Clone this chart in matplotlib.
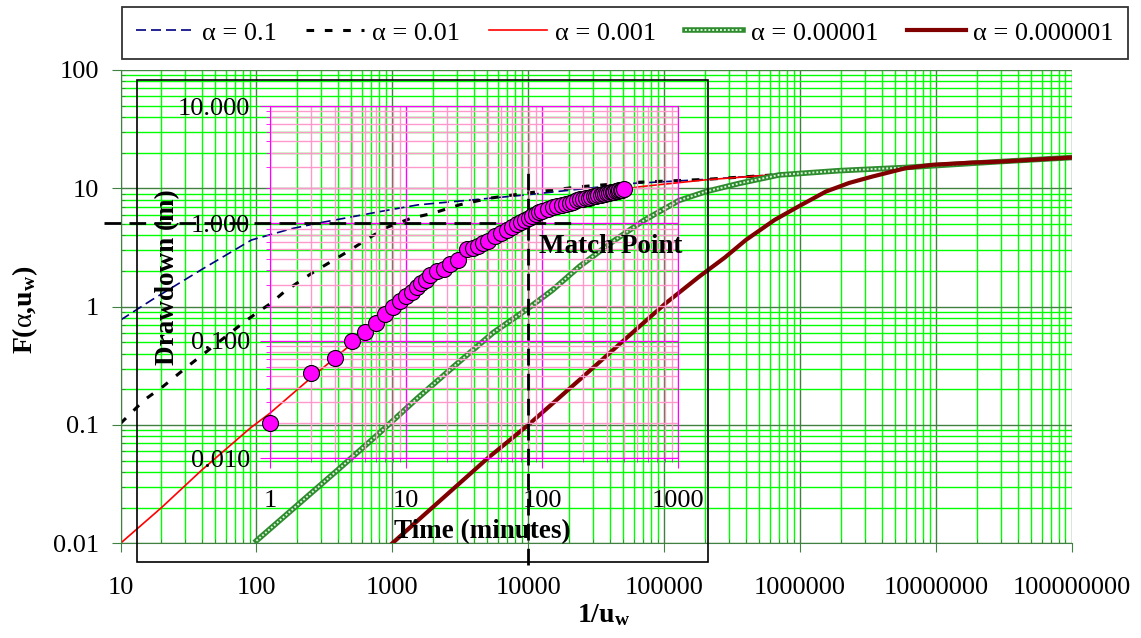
## Module imports
import numpy as np
import matplotlib
matplotlib.use('Agg')
import matplotlib.pyplot as plt
from matplotlib.lines import Line2D
from matplotlib.patches import Rectangle
from matplotlib.ticker import LogLocator, NullFormatter

plt.rcParams['font.family'] = 'Liberation Serif'
plt.rcParams['mathtext.fontset'] = 'custom'
plt.rcParams['mathtext.rm'] = 'Liberation Serif'
plt.rcParams['mathtext.bf'] = 'Liberation Serif:bold'
plt.rcParams['mathtext.it'] = 'Liberation Serif:italic'

## Type curves F(alpha, u_w)
x_a1 = [10, 17, 39, 92, 125, 180, 282, 807, 1535, 9660, 58600, 203000, 630000]
F_a1 = [0.77, 1.14, 2.04, 3.66, 4.04, 4.55, 5.07, 6.35, 7.24, 8.8, 11.0, 11.9, 13.0]

x_a2 = [10, 15, 20.5, 32, 43, 82, 100, 128, 161, 207, 267, 354, 470, 697, 923,
        1370, 1990, 3120, 5190, 9660, 23800, 58600, 203000, 650000]
F_a2 = [0.103, 0.163, 0.211, 0.32, 0.417, 0.747, 0.88, 1.07, 1.34, 1.63, 1.98, 2.4,
        2.92, 3.9, 4.7, 5.58, 6.16, 7.25, 8.25, 9.1, 10.3, 11.2, 11.9, 13.0]

x_a3 = [10, 20, 40, 90, 125, 247, 460, 741, 1210, 2340, 3575, 6320, 9660, 13560,
        19000, 29800, 50900, 65600, 203000, 630000]
F_a3 = [0.01, 0.02, 0.042, 0.094, 0.125, 0.245, 0.445, 0.70, 1.18, 2.05, 3.0, 4.25,
        5.5, 6.6, 7.45, 8.6, 9.8, 10.3, 11.8, 13.0]

x_a5 = [100, 200, 400, 800, 1500, 3000, 5500, 9660, 15100, 23800, 41800, 70000,
        129000, 203000, 357000, 700000, 1940000, 6000000, 29000000, 100000000]
F_a5 = [0.0105, 0.021, 0.042, 0.085, 0.165, 0.33, 0.6, 0.94, 1.38, 2.18, 3.54, 5.3,
        7.9, 9.38, 11.0, 12.97, 14.1, 15.0, 16.8, 18.2]

x_a6 = [1000, 5000, 10000, 23800, 50000, 103000, 181000, 280000, 400000, 650000,
        970000, 1550000, 2300000, 3400000, 6000000, 9400000, 18500000, 29000000,
        100000000]
F_a6 = [0.01, 0.052, 0.1, 0.24, 0.513, 1.07, 1.79, 2.6, 3.66, 5.4, 7.0, 9.38, 11.1,
        12.56, 14.8, 15.8, 16.5, 16.8, 18.2]

labels = ['α = 0.1', 'α = 0.01', 'α = 0.001', 'α = 0.00001', 'α = 0.000001']

## Field data: drawdown vs time
t_min = [1, 2, 3, 4, 5, 6, 7, 8, 9, 10, 11, 12, 13, 14, 15, 17, 19, 21, 24, 28,
         31, 34, 37, 40, 45, 50, 55, 60, 65, 70, 75, 80, 85, 90, 95, 100, 110, 120,
         130, 140, 150, 160, 170, 180, 190, 200, 210, 220, 230, 240, 250, 260, 270,
         280, 290, 300, 310, 320, 330, 340, 350, 360, 370, 380, 390, 400]
s_m = [0.020, 0.053, 0.071, 0.100, 0.119, 0.143, 0.171, 0.195, 0.219, 0.241, 0.262,
       0.285, 0.31, 0.329, 0.363, 0.39, 0.41, 0.45, 0.487, 0.60, 0.62, 0.645, 0.68,
       0.715, 0.78, 0.83, 0.88, 0.93, 0.98, 1.03, 1.08, 1.12, 1.16, 1.20, 1.24, 1.27,
       1.33, 1.37, 1.41, 1.44, 1.47, 1.50, 1.53, 1.57, 1.60, 1.62, 1.64, 1.66, 1.68,
       1.70, 1.72, 1.74, 1.75, 1.77, 1.79, 1.80, 1.82, 1.84, 1.85, 1.87, 1.88, 1.90,
       1.91, 1.92, 1.94, 1.95]

## Axis ticks
out_xticks = [10, 100, 1000, 10000, 100000, 1000000, 10000000, 100000000]
out_yticks = [0.01, 0.1, 1, 10, 100]
in_xticks = [1, 10, 100, 1000]
in_yticks = [0.01, 0.1, 1, 10]
in_ylabels = ['0.010', '0.100', '1.000', '10.000']

## Match point (outer chart coordinates) and extent of its dashed guides
match_x = 10000
match_F = 5.13
match_hx = [7.6, 21500]
match_vF = [0.0066, 14.9]

W, H = 1141, 638
def box(l, t, r, b):
    return [l / W, 1 - b / H, (r - l) / W, (b - t) / H]

fig = plt.figure(figsize=(W / 100, H / 100), dpi=100)

## Outer chart
ax = fig.add_axes(box(120.5, 70, 1071.7, 543.3), zorder=1)
ax.set_xscale('log')
ax.set_yscale('log')
ax.set_xlim(10, 1e8)
ax.set_ylim(0.01, 100)
ax.set_xticks(out_xticks)
ax.set_xticklabels([str(v) for v in out_xticks])
ax.set_yticks(out_yticks)
ax.set_yticklabels(['0.01', '0.1', '1', '10', '100'])
ax.xaxis.set_minor_locator(LogLocator(base=10, subs=np.arange(2, 10), numticks=100))
ax.yaxis.set_minor_locator(LogLocator(base=10, subs=np.arange(2, 10), numticks=100))
ax.xaxis.set_minor_formatter(NullFormatter())
ax.yaxis.set_minor_formatter(NullFormatter())
ax.grid(which='minor', color='#00FF00', lw=1)
ax.grid(which='major', color='#408040', lw=1)
ax.set_axisbelow(True)
for sp in ['top', 'right']:
    ax.spines[sp].set_visible(False)
for sp in ['left', 'bottom']:
    ax.spines[sp].set_color('#408040')
ax.tick_params(which='major', direction='out', length=6.5, color='#408040', labelsize=19)
ax.tick_params(axis='x', which='major', pad=18)
ax.tick_params(axis='y', which='major', pad=9)
ax.tick_params(which='minor', direction='in', length=3, color='#408040')

l1, = ax.plot(x_a1, F_a1, color='#000080', lw=1.2, ls=(0, (6, 3)))
l2, = ax.plot(x_a2, F_a2, color='black', lw=2.2, ls=(0, (2.5, 3.5)))
l3, = ax.plot(x_a3, F_a3, color='#FF0000', lw=1.2)
g1, = ax.plot(x_a5, F_a5, color='#2E8B2E', lw=4)
g2, = ax.plot(x_a5, F_a5, color='#D8F5D8', lw=1.4, ls=(0, (1, 1)))
l6, = ax.plot(x_a6, F_a6, color='#800000', lw=3)

ax.set_xlabel(r'$\mathbf{1/u_w}$', fontsize=20)
ax.xaxis.set_label_coords(0.508, -0.124)
ax.set_ylabel(r'$\mathbf{F(}\mathrm{α}\mathbf{{,}u_w)}$', fontsize=20)
ax.yaxis.set_label_coords(-0.085, 0.493)

## Inner chart frame
fig.add_artist(Rectangle((137 / W, 1 - 562 / H), 571 / W, 482 / H, transform=fig.transFigure,
                         fill=False, ec='black', lw=1.2, zorder=2))

## Inner chart (field data)
ax_in = fig.add_axes(box(270, 106, 678, 458.3), zorder=3)
ax_in.set_facecolor('none')
ax_in.set_xscale('log')
ax_in.set_yscale('log')
ax_in.set_xticks(in_xticks)
ax_in.set_xticklabels([str(v) for v in in_xticks])
ax_in.set_yticks(in_yticks)
ax_in.set_yticklabels(in_ylabels)
ax_in.xaxis.set_minor_locator(LogLocator(base=10, subs=np.arange(2, 10), numticks=100))
ax_in.yaxis.set_minor_locator(LogLocator(base=10, subs=np.arange(2, 10), numticks=100))
ax_in.xaxis.set_minor_formatter(NullFormatter())
ax_in.yaxis.set_minor_formatter(NullFormatter())
ax_in.grid(which='minor', color='#FF99CC', lw=1)
ax_in.grid(which='major', color='#FF00FF', lw=1)
for sp in ax_in.spines.values():
    sp.set_color('#FF00FF')
ax_in.tick_params(which='major', direction='out', length=7.5, color='#FF00FF', labelsize=19)
ax_in.tick_params(axis='x', which='major', pad=15)
ax_in.tick_params(axis='y', which='major', pad=7)
ax_in.tick_params(which='minor', direction='out', length=3, color='#FF00FF')

ax_in.plot(t_min, s_m, 'o', ms=11.5, mfc='#FF00FF', mec='black', mew=0.8, clip_on=False, zorder=5)
ax_in.set_xlim(1, 1000)
ax_in.set_ylim(0.01, 10)

ax_in.set_xlabel('Time (minutes)', fontsize=19.5, fontweight='bold')
ax_in.xaxis.set_label_coords(0.521, -0.172)
ax_in.set_ylabel('Drawdown (m)', fontsize=19.5, fontweight='bold')
ax_in.yaxis.set_label_coords(-0.221, 0.515)

## Match point guides
ax_in.add_artist(Line2D(match_hx, [match_F, match_F], transform=ax.transData, color='black',
                        lw=2, ls=(0, (6, 3)), clip_on=False, zorder=4))
ax_in.add_artist(Line2D([match_x, match_x], match_vF, transform=ax.transData, color='black',
                        lw=2, ls=(0, (6, 3)), clip_on=False, zorder=4))
ax_in.text(12000, 3.2, 'Match Point', transform=ax.transData, fontsize=19.5,
           fontweight='bold', ha='left', va='center', zorder=6)

## Legend
leg = fig.legend([l1, l2, l3, (g1, g2), l6], labels, ncol=5, loc='upper center',
                 bbox_to_anchor=(625 / W, 1 - 6.7 / H), fontsize=19, frameon=True,
                 fancybox=False, edgecolor='black', handlelength=2.2, handletextpad=0.3,
                 columnspacing=1.1, borderpad=0.55, borderaxespad=0)
leg.get_frame().set_linewidth(1.3)
leg.set_zorder(10)

plt.savefig('out.png', dpi=100)
